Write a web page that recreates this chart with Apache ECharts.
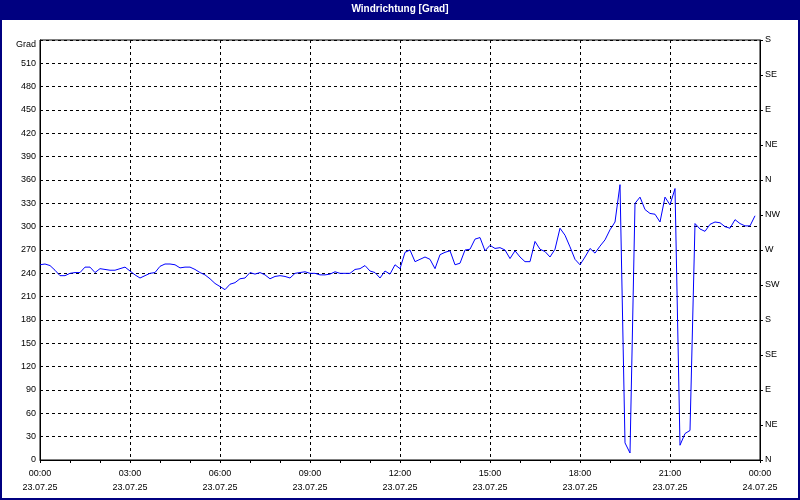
<!DOCTYPE html>
<html>
<head>
<meta charset="utf-8">
<script src="https://cdn.jsdelivr.net/npm/echarts@6/dist/echarts.min.js"></script>
<style>
  html, body { margin: 0; padding: 0; background: #fff; }
  #main { width: 800px; height: 500px; }
</style>
</head>
<body>
<div id="main"></div>
<script>
  // Windrichtung, 10-Minuten-Werte ab 23.07.25 00:00
  const stepMin = 10;
  const values = [
    251, 252, 250, 244, 237, 237, 240, 241, 241, 248, 248, 241,
    246, 245, 244, 244, 246, 248, 243, 238, 234, 237, 240, 241,
    249, 252, 252, 251, 247, 248, 248, 245, 241, 238, 233, 227,
    223, 219, 226, 228, 233, 234, 241, 239, 241, 238, 233, 236,
    237, 236, 234, 240, 241, 242, 240, 240, 238, 238, 239, 242,
    240, 240, 240, 245, 246, 250, 243, 241, 234, 243, 239, 251,
    246, 267, 270, 255, 258, 261, 258, 246, 264, 267, 269, 251,
    253, 270, 271, 284, 286, 269, 276, 272, 273, 270, 259, 269,
    261, 255, 255, 281, 271, 268, 261, 271, 298, 289, 274, 258,
    251, 261, 272, 266, 275, 283, 296, 306, 354, 22, 9, 330,
    338, 322, 317, 316, 306, 338, 328, 349, 19, 34, 38, 304,
    297, 294, 303, 306, 305, 300, 298, 309, 304, 301, 301, 314
  ];
  const tickTimes = ['00:00', '03:00', '06:00', '09:00', '12:00', '15:00', '18:00', '21:00', '00:00'];
  const tickDates = ['23.07.25', '23.07.25', '23.07.25', '23.07.25', '23.07.25', '23.07.25', '23.07.25', '23.07.25', '24.07.25'];
  const dirLabels = ['N', 'NE', 'E', 'SE', 'S', 'SW', 'W', 'NW', 'N', 'NE', 'E', 'SE', 'S'];

  const font = 'Liberation Sans, Arial, sans-serif';
  const chart = echarts.init(document.getElementById('main'));

  const option = {
    animation: false,
    backgroundColor: '#fff',
    textStyle: { fontFamily: font },
    graphic: [
      // Titelleiste
      { type: 'rect', shape: { x: 0, y: 0, width: 800, height: 20 }, style: { fill: '#000080' }, z: 10 },
      {
        type: 'text', x: 400, y: 9, z: 11,
        style: { text: 'Windrichtung [Grad]', fill: '#fff', font: 'bold 10px ' + font, align: 'center', verticalAlign: 'middle' }
      },
      // Rahmen
      { type: 'rect', shape: { x: 1, y: 1, width: 798, height: 498 }, style: { fill: null, stroke: '#000080', lineWidth: 2 }, z: 10 },
      {
        type: 'text', x: 36, y: 45,
        style: { text: 'Grad', fill: '#000', font: '9px ' + font, align: 'right', verticalAlign: 'middle' }
      }
    ],
    grid: {
      left: 40, right: 40, top: 40, bottom: 40,
      show: true, borderColor: '#000', borderWidth: 1, backgroundColor: '#fff'
    },
    xAxis: {
      type: 'value',
      min: 0,
      max: 1440,
      interval: 180,
      axisLine: { show: true, lineStyle: { color: '#000', width: 1 } },
      axisTick: { show: true, length: 3, lineStyle: { color: '#000' } },
      minorTick: { show: true, splitNumber: 3, length: 3, lineStyle: { color: '#000' } },
      splitLine: { show: true, lineStyle: { color: '#000', type: [3, 3], width: 1 } },
      axisLabel: {
        color: '#000', fontSize: 9, fontFamily: font, lineHeight: 14, margin: 7,
        formatter: (v) => {
          const k = Math.round(v / 180);
          return tickTimes[k] + '\n' + tickDates[k];
        }
      }
    },
    yAxis: [
      {
        type: 'value',
        min: 0,
        max: 540,
        interval: 30,
        axisLine: { show: true, lineStyle: { color: '#000', width: 1 } },
        axisTick: { show: false },
        splitLine: { show: true, lineStyle: { color: '#000', type: [3, 3], width: 1 } },
        axisLabel: {
          color: '#000', fontSize: 9, fontFamily: font, margin: 4,
          formatter: (v) => (v === 540 ? '' : String(v))
        }
      },
      {
        type: 'value',
        position: 'right',
        min: 0,
        max: 540,
        interval: 45,
        axisLine: { show: true, lineStyle: { color: '#000', width: 1 } },
        axisTick: { show: true, length: 3, lineStyle: { color: '#000' } },
        splitLine: { show: false },
        axisLabel: {
          color: '#000', fontSize: 9, fontFamily: font, margin: 5,
          formatter: (v) => dirLabels[Math.round(v / 45)]
        }
      }
    ],
    series: [
      {
        name: 'Windrichtung',
        type: 'line',
        yAxisIndex: 0,
        data: values.map((v, i) => [i * stepMin, v]),
        showSymbol: false,
        symbol: 'none',
        lineStyle: { color: '#0000ff', width: 1 },
        itemStyle: { color: '#0000ff' }
      }
    ]
  };

  chart.setOption(option);
</script>
</body>
</html>
